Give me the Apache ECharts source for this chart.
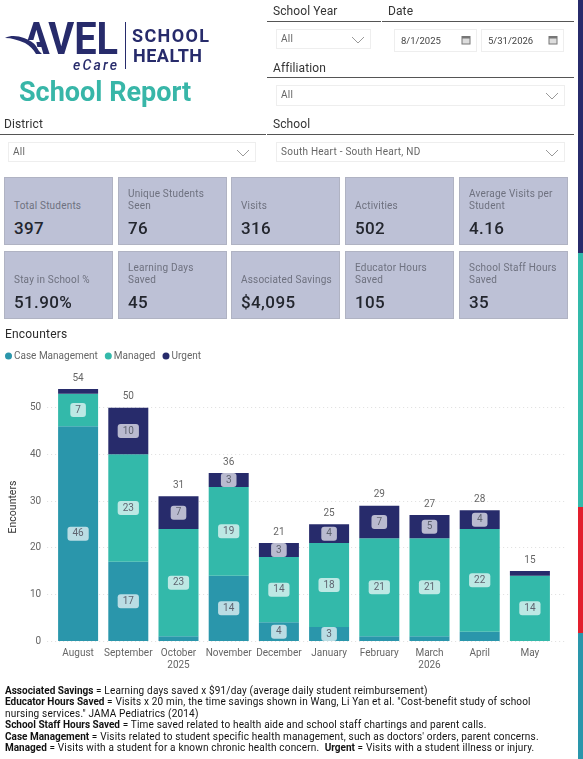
<!DOCTYPE html>
<html>
<head>
<meta charset="utf-8">
<title>School Report</title>
<script src="https://cdn.jsdelivr.net/npm/echarts@6/dist/echarts.min.js"></script>
<style>
    html, body { margin: 0; padding: 0; background: #fff; overflow: hidden; }
    body { width: 583px; height: 759px; position: relative; font-family: Roboto, sans-serif; }
    #chart { position: absolute; left: 0; top: 0; width: 583px; height: 759px; }
    .abs { position: absolute; white-space: nowrap; }
    .slicerTitle { font-size: 12px; color: #333; letter-spacing: .1px; line-height: 14px; }
    .rule { position: absolute; height: 1px; background: #555; }
    .box { position: absolute; box-sizing: border-box; border: 1px solid #eee; font-size: 10px; color: #666; letter-spacing: .25px; padding-left: 4px; }
    .chev { position: absolute; right: 5px; top: 6px; }
    .card { position: absolute; box-sizing: border-box; background: #bdc1d6; border: 1px solid #b0b3c3; width: 109px; height: 68px; }
    .card .name { position: absolute; left: 9px; bottom: 32px; font-size: 10px; line-height: 12px; color: #6e717f; letter-spacing: .2px; white-space: nowrap; }
    .card .val { position: absolute; left: 9px; top: 40px; font-size: 17px; line-height: 20px; font-weight: 500; color: #23262e; letter-spacing: .4px; }
    #notes { left: 5px; top: 685px; font-size: 10px; line-height: 11.4px; color: #111; letter-spacing: .18px; }
    #notes b { letter-spacing: 0; }
</style>
</head>
<body>
<div id="chart"></div>
<div id="page"></div>
<script>
// 图表数据
const months = ['August', 'September', 'October\n2025', 'November', 'December', 'January', 'February', 'March\n2026', 'April', 'May']
const caseManagement = [46, 17, 1, 14, 4, 3, 1, 1, 2, 0]
const managed = [7, 23, 23, 19, 14, 18, 21, 21, 22, 14]
const urgent = [1, 10, 7, 3, 3, 4, 7, 5, 4, 1]
const totals = [54, 50, 31, 36, 21, 25, 29, 27, 28, 15]
const yTicks = [0, 10, 20, 30, 40, 50]

// KPI 卡片
const cardNames = ['Total Students', 'Unique Students<br>Seen', 'Visits', 'Activities', 'Average Visits per<br>Student',
    'Stay in School %', 'Learning Days<br>Saved', 'Associated Savings', 'Educator Hours<br>Saved', 'School Staff Hours<br>Saved']
const cardValues = ['397', '76', '316', '502', '4.16', '51.90%', '45', '$4,095', '105', '35']

const noteLines = [
    '<b>Associated Savings</b> = Learning days saved x $91/day (average daily student reimbursement)',
    '<b>Educator Hours Saved</b> = Visits x 20 min, the time savings shown in Wang, Li Yan et al. "Cost-benefit study of school',
    'nursing services." JAMA Pediatrics (2014)',
    '<b>School Staff Hours Saved</b> = Time saved related to health aide and school staff chartings and parent calls.',
    '<b>Case Management</b> = Visits related to student specific health management, such as doctors\' orders, parent concerns.',
    '<b>Managed</b> = Visits with a student for a known chronic health concern.&nbsp; <b>Urgent</b> = Visits with a student illness or injury.'
]

const NAVY = '#272b6b', TEAL = '#33b9aa', BLUE = '#2a96ab'
const chevron = '<svg class="chev" width="14" height="8"><path d="M1 1 L7 7 L13 1" fill="none" stroke="#999" stroke-width="1"/></svg>'
const calendar = '<svg class="chev" style="top:5px" width="10" height="10"><rect x="1" y="1.5" width="8" height="7.5" fill="#ddd" stroke="#777"/><rect x="1" y="1.5" width="8" height="2" fill="#777"/></svg>'

/**
 * 拼出图表以外的页面元素
 */
function buildPage() {
    let html = ''
    // 右侧色条
    const stripes = [[0, 253, NAVY], [253, 254, TEAL], [507, 126, '#e21f2d'], [633, 126, BLUE]]
    stripes.forEach(s => {
        html += `<div class="abs" style="left:578px;width:5px;top:${s[0]}px;height:${s[1]}px;background:${s[2]}"></div>`
    })
    // logo
    html += `<svg class="abs" style="left:0;top:0" width="260" height="76">
        <text x="23" y="54" font-family="Roboto" font-weight="700" font-size="45" fill="${NAVY}" textLength="95" lengthAdjust="spacingAndGlyphs">AVEL</text>
        <path d="M14 40 L36 40 L39 56 L14 56 Z" fill="#fff"/>
        <path d="M5 38 C11 35 18 36 24 38 C30 40 34 43 36 46 L39 51 L42 54 L36 54 C33 49 30 46 25 43 C18 40 12 38 5 38 Z" fill="${NAVY}"/>
        <text x="73" y="70" font-family="Roboto" font-style="italic" font-weight="500" font-size="14" fill="${NAVY}" textLength="44">eCare</text>
        <rect x="125" y="22" width="1" height="47" fill="${NAVY}"/>
        <text x="132" y="42" font-family="Roboto" font-weight="700" font-size="18" fill="${NAVY}" textLength="77">SCHOOL</text>
        <text x="133" y="62" font-family="Roboto" font-weight="700" font-size="18" fill="${NAVY}" textLength="69">HEALTH</text>
    </svg>`
    html += `<div class="abs" style="left:19px;top:75px;font-size:27px;line-height:34px;font-weight:700;color:#38b6a8">School Report</div>`
    // 筛选器
    const titles = [['School Year', 273, 4], ['Date', 388, 4], ['Affiliation', 273, 61], ['District', 4, 117], ['School', 273, 117]]
    titles.forEach(t => {
        html += `<div class="abs slicerTitle" style="left:${t[1]}px;top:${t[2]}px">${t[0]}</div>`
    })
    const rules = [[267, 21, 114], [382, 21, 192], [267, 77, 307], [0, 134, 266], [267, 134, 307]]
    rules.forEach(r => {
        html += `<div class="rule" style="left:${r[0]}px;top:${r[1]}px;width:${r[2]}px"></div>`
    })
    const boxes = [[276, 29, 95, 20, 'All'], [276, 85, 289, 21, 'All'], [8, 142, 248, 20, 'All'], [276, 142, 289, 20, 'South Heart - South Heart, ND']]
    boxes.forEach(b => {
        html += `<div class="box" style="left:${b[0]}px;top:${b[1]}px;width:${b[2]}px;height:${b[3]}px;line-height:${b[3] - 3}px">${b[4]}${chevron}</div>`
    })
    const dates = [[394, '8/1/2025'], [481, '5/31/2026']]
    dates.forEach(d => {
        html += `<div class="box" style="left:${d[0]}px;top:29px;width:83px;height:23px;line-height:22px;color:#444;padding-left:6px;font-size:9.5px;letter-spacing:0">${d[1]}${calendar}</div>`
    })
    // KPI 卡片
    const cardX = [4, 118, 231, 345, 459]
    const cardY = [177, 251]
    cardNames.forEach((name, i) => {
        const x = cardX[i % 5]
        const y = cardY[Math.floor(i / 5)]
        html += `<div class="card" style="left:${x}px;top:${y}px"><div class="name">${name}</div><div class="val">${cardValues[i]}</div></div>`
    })
    html += `<div class="abs" style="left:5px;top:327px;font-size:12px;line-height:15px;color:#2b2b2b;letter-spacing:.2px">Encounters</div>`
    html += `<div class="abs" id="notes">${noteLines.join('<br>')}</div>`
    document.getElementById('page').innerHTML = html
}

/**
 * 堆叠柱状图中的一段，小于 3 的值不显示标签
 */
function stackSeries(name, list, color) {
    return {
        type: 'bar',
        name: name,
        stack: 'encounters',
        barWidth: 40,
        xAxisIndex: 0,
        yAxisIndex: 0,
        itemStyle: { color: color, borderWidth: 0 },
        data: list.map(v => ({ value: v, label: { show: v >= 3 } })),
        label: {
            position: 'inside',
            fontFamily: 'Roboto',
            fontSize: 10,
            color: '#5f6470',
            backgroundColor: 'rgba(255,255,255,0.68)',
            borderRadius: 3,
            padding: [2, 5, 2, 5]
        }
    }
}

function drawChart() {
    const cs = echarts.init(document.getElementById('chart'), null, { renderer: 'canvas' })
    const option = {
        animation: false,
        textStyle: { fontFamily: 'Roboto' },
        legend: {
            data: ['Case Management', 'Managed', 'Urgent'],
            left: 5,
            top: 351,
            icon: 'circle',
            itemWidth: 7,
            itemHeight: 7,
            itemGap: 7,
            padding: 0,
            textStyle: { fontSize: 10, color: '#666', padding: [0, 0, 0, -3] }
        },
        // 第一个 grid 放柱子，第二个更宽的 grid 放网格线与数值轴
        grid: [
            { left: 53, right: 28, top: 361, bottom: 118 },
            { left: 37, right: 16, top: 361, bottom: 118 }
        ],
        xAxis: [
            {
                type: 'category',
                gridIndex: 0,
                data: months,
                axisLine: { show: false },
                axisTick: { show: false },
                axisLabel: { color: '#666', fontSize: 10, lineHeight: 12, margin: 6, interval: 0, hideOverlap: false }
            },
            { type: 'value', gridIndex: 1, show: false, min: 0, max: 1 }
        ],
        yAxis: [
            { type: 'value', gridIndex: 0, show: false, min: 0, max: 60, interval: 10 },
            {
                type: 'value',
                gridIndex: 1,
                min: 0,
                max: 60,
                interval: 10,
                name: 'Encounters',
                nameLocation: 'middle',
                nameGap: 25,
                nameTextStyle: { color: '#333', fontSize: 10.5, padding: [0, 12, 0, 0] },
                axisLine: { show: false },
                axisTick: { show: false },
                axisLabel: {
                    color: '#666',
                    fontSize: 10,
                    margin: 6,
                    showMaxLabel: false,
                    formatter: v => (yTicks.includes(v) ? String(v) : '')
                },
                splitLine: { showMaxLine: false, lineStyle: { color: '#dedede', type: [1, 3] } }
            }
        ],
        series: [
            stackSeries('Case Management', caseManagement, BLUE),
            stackSeries('Managed', managed, TEAL),
            stackSeries('Urgent', urgent, NAVY),
            {
                // 柱顶总数：线和点都透明，只留标签
                type: 'line',
                name: 'Total',
                xAxisIndex: 0,
                yAxisIndex: 0,
                data: totals,
                symbol: 'circle',
                symbolSize: 2,
                showSymbol: true,
                showAllSymbol: true,
                itemStyle: { color: 'rgba(0,0,0,0)' },
                lineStyle: { width: 0, color: 'rgba(0,0,0,0)' },
                label: { show: true, position: 'top', distance: 5, fontSize: 10, color: '#666' }
            }
        ]
    }
    cs.setOption(option)
}

buildPage()
drawChart()
</script>
</body>
</html>
